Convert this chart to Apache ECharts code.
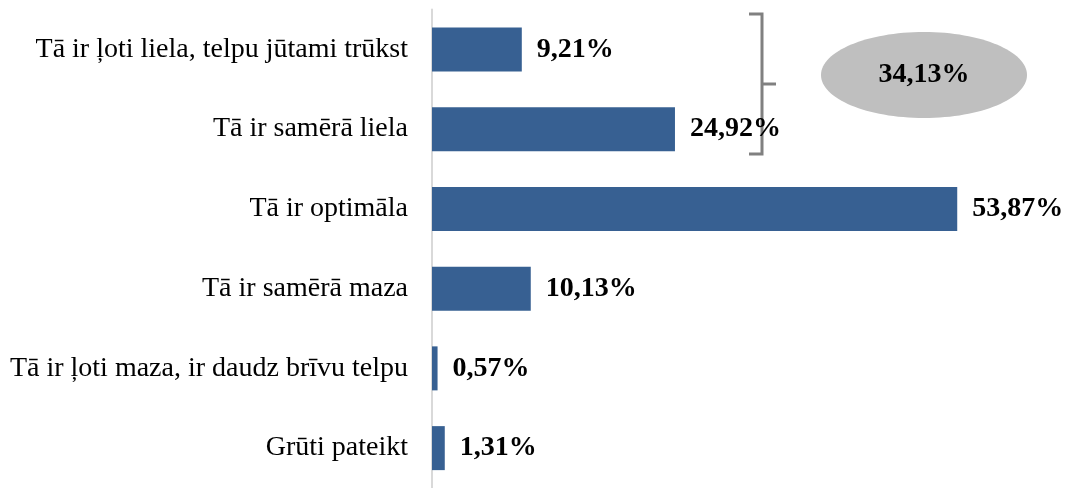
<!DOCTYPE html>
<html>
<head>
<meta charset="utf-8">
<script src="https://cdn.jsdelivr.net/npm/echarts@6/dist/echarts.min.js"></script>
<style>
  html, body { margin: 0; padding: 0; background: #fff; }
  #app { width: 1066px; height: 488px; }
</style>
</head>
<body>
<div id="app"></div>
<script>
// atbilžu varianti (no augšas uz leju)
var categories = [
    'Tā ir ļoti liela, telpu jūtami trūkst',
    'Tā ir samērā liela',
    'Tā ir optimāla',
    'Tā ir samērā maza',
    'Tā ir ļoti maza, ir daudz brīvu telpu',
    'Grūti pateikt'
];
var values = [9.21, 24.92, 53.87, 10.13, 0.57, 1.31];
// kopsumma pirmajām divām atbildēm
var groupTotal = '34,13%';

var myChart = echarts.init(document.getElementById('app'));

function fmt(v) {
    return v.toFixed(2).replace('.', ',') + '%';
}

var option = {
    animation: false,
    grid: { left: 432, right: 49, top: 9.5, bottom: -7.5, containLabel: false },
    xAxis: {
        type: 'value',
        min: 0,
        max: 60,
        show: false
    },
    yAxis: {
        type: 'category',
        data: categories,
        inverse: true,
        axisTick: { show: false },
        axisLine: { show: true, lineStyle: { color: '#d9d9d9', width: 2 } },
        axisLabel: {
            color: '#000',
            fontFamily: 'Liberation Serif',
            fontSize: 28,
            margin: 24
        }
    },
    series: [{
        type: 'bar',
        data: values,
        barWidth: 44,
        itemStyle: { color: '#376092' },
        label: {
            show: true,
            position: 'right',
            distance: 15,
            color: '#000',
            fontFamily: 'Liberation Serif',
            fontWeight: 'bold',
            fontSize: 28,
            formatter: function (p) { return fmt(p.value); }
        }
    }],
    graphic: [
        {
            type: 'polyline',
            shape: { points: [[749, 14], [762, 14], [762, 154], [749, 154]] },
            style: { stroke: '#808080', lineWidth: 3, fill: null }
        },
        {
            type: 'line',
            shape: { x1: 762, y1: 84, x2: 776, y2: 84 },
            style: { stroke: '#808080', lineWidth: 3 }
        },
        {
            type: 'ellipse',
            shape: { cx: 924, cy: 75, rx: 103, ry: 43 },
            style: { fill: '#bfbfbf' }
        },
        {
            type: 'text',
            x: 924,
            y: 75,
            style: {
                text: groupTotal,
                fill: '#000',
                font: 'bold 28px "Liberation Serif"',
                align: 'center',
                verticalAlign: 'middle'
            }
        }
    ]
};

myChart.setOption(option);
</script>
</body>
</html>
